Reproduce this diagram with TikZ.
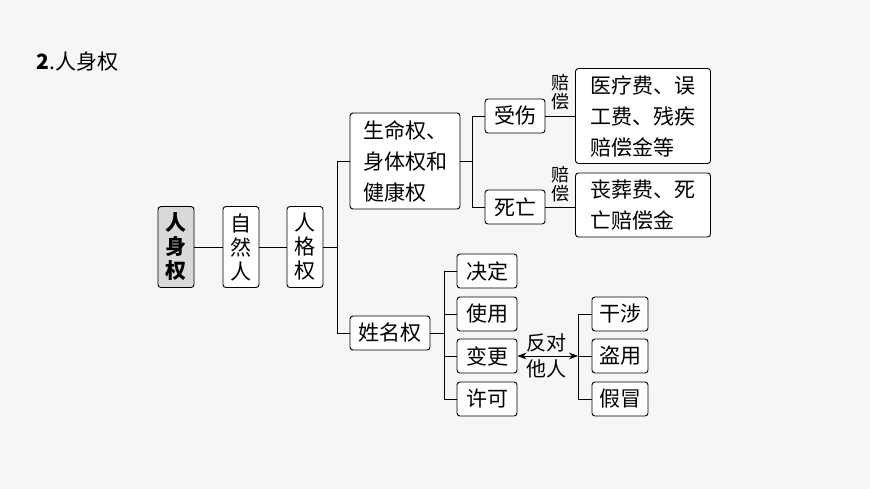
\documentclass[tikz,border=0pt]{standalone}
\usepackage{fontspec}
\setmainfont{Noto Sans CJK SC}
\usetikzlibrary{positioning,arrows.meta}
\definecolor{bgcol}{HTML}{F4F7F4}
\definecolor{rootcol}{HTML}{D9D9D9}
\tikzset{
  box/.style={draw, rounded corners=3pt, line width=0.9pt, fill=white, inner sep=3pt, font=\fontsize{21}{25}\selectfont},
  vbox/.style={box, minimum width=36pt, minimum height=81pt, align=center, font=\fontsize{21}{24}\selectfont},
  sbox/.style={box, minimum width=60pt, minimum height=34pt},
  link/.style={line width=0.9pt},
  lab/.style={font=\fontsize{18}{19}\selectfont, align=center, inner sep=0pt}
}
\begin{document}
\begin{tikzpicture}[x=1pt,y=-1pt]
\fill[bgcol] (0,0) rectangle (870,489);
\useasboundingbox (0,0) rectangle (870,489);
\node[anchor=west, font=\fontsize{21}{25}\selectfont] (title) at (33,62) {\textbf{2}.人身权};
% left column
\node[vbox, fill=rootcol, font=\fontsize{21}{24}\selectfont\bfseries] (root) at (176,247) {人\\身\\权};
\node[vbox] (ziran) at (241,247) {自\\然\\人};
\node[vbox] (renge) at (305,247) {人\\格\\权};
% middle
\node[box, minimum width=110pt, minimum height=96pt, align=left, font=\fontsize{21}{31}\selectfont] (shengming) at (405,161) {生命权、\\身体权和\\健康权};
\node[box, minimum width=80pt, minimum height=34pt] (xingming) at (390,333) {姓名权};
\node[sbox] (shoushang) at (515,116) {受伤};
\node[sbox] (siwang) at (515,207) {死亡};
\node[box, minimum width=135pt, minimum height=95pt, align=left, font=\fontsize{21}{31}\selectfont] (yiliao) at (643,116) {医疗费、误\\工费、残疾\\赔偿金等};
\node[box, minimum width=135pt, minimum height=64pt, align=left, font=\fontsize{21}{31}\selectfont] (sangzang) at (643,205) {丧葬费、死\\亡赔偿金};
\node[lab] (pei1) at (560,92) {赔\\偿};
\node[lab] (pei2) at (560,184) {赔\\偿};
% name rights
\node[sbox] (jueding) at (487,271) {决定};
\node[sbox] (shiyong) at (487,314) {使用};
\node[sbox] (biangeng) at (487,356) {变更};
\node[sbox] (xuke) at (487,399) {许可};
\node[box, minimum width=56pt, minimum height=34pt] (ganshe) at (620,314) {干涉};
\node[box, minimum width=56pt, minimum height=34pt] (daoyong) at (620,356) {盗用};
\node[box, minimum width=56pt, minimum height=34pt] (jiamao) at (620,399) {假冒};
\coordinate (busr) at (578,356);
\node[lab, font=\fontsize{20}{22}\selectfont] (fandui) at (546,343) {反对};
\node[lab, font=\fontsize{20}{22}\selectfont] (taren) at (546,369) {他人};
% connectors
\draw[link] (root) -- (ziran);
\draw[link] (ziran) -- (renge);
\draw[link] (renge.east) -- ++(14,0) coordinate (b1);
\draw[link] (b1 |- shengming) -- (b1 |- xingming);
\draw[link] (b1 |- shengming) -- (shengming);
\draw[link] (b1 |- xingming) -- (xingming);
\draw[link] (shengming.east) -- ++(12,0) coordinate (b2);
\draw[link] (b2 |- shoushang) -- (b2 |- siwang);
\draw[link] (b2 |- shoushang) -- (shoushang);
\draw[link] (b2 |- siwang) -- (siwang);
\draw[link] (shoushang) -- (shoushang -| yiliao.west);
\draw[link] (siwang) -- (siwang -| sangzang.west);
\draw[link] (xingming.east) -- ++(14,0) coordinate (b3);
\draw[link] (b3 |- jueding) -- (b3 |- xuke);
\foreach \n in {jueding,shiyong,biangeng,xuke}
  \draw[link] (b3 |- \n) -- (\n);
\draw[link] (busr |- ganshe) -- (busr |- jiamao);
\foreach \n in {ganshe,daoyong,jiamao}
  \draw[link] (busr |- \n) -- (\n);
\draw[link, {Stealth[length=9pt]}-{Stealth[length=9pt]}] (biangeng) -- (busr);
\end{tikzpicture}
\end{document}
